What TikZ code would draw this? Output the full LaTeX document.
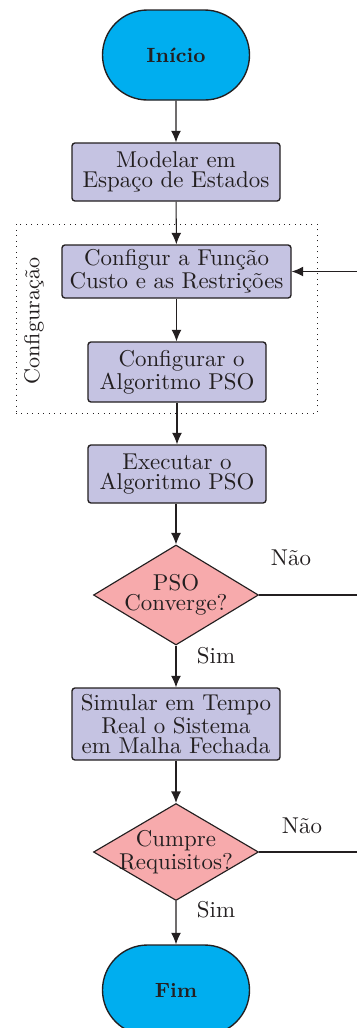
\documentclass[tikz,border=0pt]{standalone}
\usetikzlibrary{shapes.geometric,shapes.misc,arrows.meta}
\newdimen\pxu \pxu=0.4367pt
\definecolor{termblue}{RGB}{0,174,239}
\definecolor{boxlav}{RGB}{197,195,226}
\definecolor{decpink}{RGB}{247,170,172}
\definecolor{inkc}{RGB}{35,31,32}
\tikzset{
  base/.style={font=\fontsize{10}{8.6}\selectfont, align=center, inner sep=0pt, text=inkc},
  term/.style={base, rounded rectangle, draw=inkc, line width=0.6pt, fill=termblue, font=\fontsize{9}{10}\selectfont\bfseries},
  procbox/.style={base, rectangle, rounded corners=1.3pt, draw=inkc, line width=0.6pt, fill=boxlav},
  decbox/.style={base, diamond, aspect=1.65, draw=inkc, line width=0.5pt, fill=decpink, minimum width=165*\pxu, minimum height=100*\pxu},
  conn/.style={draw=inkc, line width=0.45pt},
  arr/.style={conn, -{Latex[length=5pt,width=4.3pt]}},
  lbl/.style={font=\fontsize{10}{12}\selectfont, inner sep=0pt, text=inkc}
}
\begin{document}
\begin{tikzpicture}[x=\pxu,y=-\pxu]
\useasboundingbox (0,0) rectangle (357,1028);
\node[term, minimum width=147*\pxu, minimum height=90*\pxu] (ini) at (176,55) {Início};
\node[procbox, minimum width=208*\pxu, minimum height=58*\pxu] (mod) at (176,172) {Modelar em\\Espaço de Estados};
\node[procbox, minimum width=229*\pxu, minimum height=53*\pxu] (cfn) at (176.5,271.5) {Configur a Função\\Custo e as Restrições};
\node[procbox, minimum width=178*\pxu, minimum height=60*\pxu] (cpso) at (177,372) {\hspace*{4pt}Configurar o\\Algoritmo PSO};
\node[procbox, minimum width=178*\pxu, minimum height=58*\pxu] (epso) at (177,474) {Executar o\\Algoritmo PSO};
\node[decbox, inner xsep=-4pt, inner ysep=-2pt] (conv) at (176,595) {PSO\\Converge?};
\node[procbox, minimum width=208*\pxu, minimum height=72*\pxu] (sim) at (176,724) {Simular em Tempo\\Real o Sistema\\em Malha Fechada};
\node[decbox, minimum height=97*\pxu, inner xsep=-10pt, inner ysep=-4pt] (req) at (176,852) {Cumpre\\Requisitos?};
\node[term, minimum width=147*\pxu, minimum height=90*\pxu] (fim) at (176,990) {Fim};

\node[draw=inkc, dotted, line width=0.4pt, minimum width=301*\pxu, minimum height=189*\pxu, inner sep=0pt] (cfgbox) at (166.5,318.5) {};
\node[lbl, rotate=90, font=\fontsize{9.4}{11}\selectfont] (cfglbl) at (34,321) {Configuração};

\coordinate (fbin) at (357,271.5);
\coordinate (fbc) at (357,595);
\coordinate (fbr) at (357,852);

\draw[arr] (ini) -- (mod);
\draw[arr] (mod) -- (cfn);
\draw[arr] (cfn) -- (cfn |- cpso.north);
\draw[arr] (cpso.south -| epso) -- (epso);
\draw[arr] (epso.south -| conv) -- (conv);
\draw[arr] (conv) -- (sim);
\draw[arr] (sim) -- (req);
\draw[arr] (req) -- (fim);
\draw[arr] (fbin) -- (cfn);
\draw[conn] (conv.east) -- (fbc);
\draw[conn] (req.east) -- (fbr);

\node[lbl] (nao1) at (291,558) {Não};
\node[lbl] (sim1) at (216,656) {Sim};
\node[lbl] (nao2) at (302,826) {Não};
\node[lbl] (sim2) at (216,910) {Sim};
\end{tikzpicture}
\end{document}
